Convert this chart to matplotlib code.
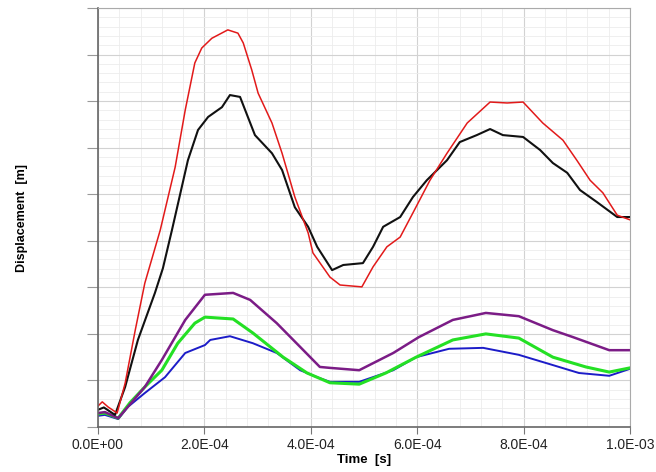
import numpy as np
import matplotlib
matplotlib.use("Agg")
import matplotlib.pyplot as plt
from matplotlib.ticker import MultipleLocator, FuncFormatter

plt.rcParams['font.family'] = ['Liberation Sans', 'DejaVu Sans']

# time in units of 1e-4 s, displacement in arbitrary grid units (axis has no labels)
red_t = [0, 0.08, 0.19, 0.36, 0.51, 0.70, 0.88, 1.17, 1.45, 1.64, 1.82, 1.95, 2.14, 2.44, 2.63,
         2.73, 2.89, 3.01, 3.27, 3.46, 3.70, 3.95, 4.04, 4.36, 4.55, 4.96, 5.17, 5.43, 5.68,
         5.92, 6.24, 6.56, 6.94, 7.37, 7.69, 7.99, 8.36, 8.74, 9.00, 9.25, 9.49, 9.76, 10.0]
red_y = [0.45, 0.54, 0.43, 0.30, 0.94, 2.08, 3.09, 4.23, 5.58, 6.81, 7.82, 8.14, 8.35, 8.53, 8.46,
         8.25, 7.67, 7.17, 6.53, 5.88, 4.94, 4.17, 3.74, 3.22, 3.05, 3.01, 3.44, 3.87, 4.08,
         4.60, 5.30, 5.88, 6.53, 6.98, 6.96, 6.98, 6.53, 6.16, 5.73, 5.30, 5.03, 4.55, 4.45]

black_t = [0, 0.11, 0.32, 0.51, 0.75, 1.07, 1.22, 1.39, 1.69, 1.88, 2.07, 2.33, 2.48, 2.67, 2.95,
           3.27, 3.46, 3.70, 3.95, 4.12, 4.40, 4.61, 4.98, 5.17, 5.36, 5.68, 5.92, 6.18, 6.56,
           6.80, 7.12, 7.37, 7.61, 7.99, 8.31, 8.55, 8.82, 9.06, 9.38, 9.76, 10.0]
black_y = [0.37, 0.42, 0.26, 0.86, 1.87, 2.88, 3.41, 4.23, 5.73, 6.38, 6.66, 6.87, 7.13, 7.09, 6.27,
           5.88, 5.52, 4.72, 4.30, 3.87, 3.37, 3.48, 3.52, 3.87, 4.30, 4.51, 4.94, 5.30, 5.73,
           6.12, 6.27, 6.40, 6.27, 6.23, 5.95, 5.67, 5.46, 5.09, 4.83, 4.51, 4.51]

purple_t = [0, 0.13, 0.38, 0.88, 1.20, 1.64, 2.01, 2.54, 2.86, 3.36, 3.80, 4.17, 4.36, 4.91, 5.55,
            6.03, 6.67, 7.29, 7.91, 8.55, 8.93, 9.61, 10.0]
purple_y = [0.30, 0.32, 0.19, 0.86, 1.44, 2.30, 2.84, 2.88, 2.73, 2.23, 1.72, 1.29, 1.27, 1.22, 1.59,
            1.93, 2.30, 2.45, 2.38, 2.08, 1.93, 1.65, 1.65]

green_t = [0, 0.13, 0.38, 0.60, 0.88, 1.20, 1.50, 1.82, 2.01, 2.54, 2.91, 3.48, 3.93, 4.36, 4.91,
           5.41, 5.98, 6.67, 7.29, 7.91, 8.55, 9.17, 9.61, 10.0]
green_y = [0.28, 0.30, 0.19, 0.52, 0.86, 1.22, 1.80, 2.23, 2.36, 2.32, 2.02, 1.50, 1.16, 0.95, 0.92,
           1.16, 1.50, 1.87, 2.00, 1.91, 1.50, 1.29, 1.18, 1.27]

blue_t = [0, 0.13, 0.38, 0.56, 0.88, 1.26, 1.64, 2.01, 2.11, 2.48, 2.91, 3.36, 3.80, 4.12, 4.36,
          4.91, 5.55, 5.98, 6.60, 7.24, 7.91, 8.55, 9.04, 9.61, 10.0]
blue_y = [0.24, 0.26, 0.17, 0.43, 0.73, 1.07, 1.59, 1.76, 1.87, 1.95, 1.80, 1.59, 1.22, 1.07, 0.97,
          0.97, 1.22, 1.50, 1.68, 1.70, 1.55, 1.33, 1.16, 1.10, 1.25]

x_ticks = [0, 2e-4, 4e-4, 6e-4, 8e-4, 1e-3]
x_labels = ["0.0E+00", "2.0E-04", "4.0E-04", "6.0E-04", "8.0E-04", "1.0E-03"]

fig = plt.figure(figsize=(6.56, 4.72), dpi=100)
ax = fig.add_axes([98/656, 45/472, 532/656, 419/472])

series = [
    (blue_t, blue_y, "#1c1cc8", 1.4),
    (green_t, green_y, "#24e024", 2.2),
    (purple_t, purple_y, "#7b1c86", 1.8),
    (black_t, black_y, "#111111", 1.5),
    (red_t, red_y, "#e21a1a", 1.1),
]
for t, y, c, lw in series:
    ax.plot(np.array(t) * 1e-4, y, color=c, lw=lw)

ax.set_xlim(0, 1e-3)
ax.set_ylim(0, 9)
ax.set_xticks(x_ticks)
ax.set_xticklabels(x_labels)
ax.xaxis.set_minor_locator(MultipleLocator(4e-5))
ax.yaxis.set_major_locator(MultipleLocator(1))
ax.yaxis.set_minor_locator(MultipleLocator(0.2))
ax.yaxis.set_major_formatter(FuncFormatter(lambda v, p: ""))

ax.grid(which="major", color="#d2d2d2", lw=0.8)
ax.grid(which="minor", color="#ececec", lw=0.6)
ax.set_axisbelow(True)

ax.tick_params(axis="x", which="major", direction="out", length=5, color="#777777",
               labelsize=10, labelcolor="#222222", pad=3)
ax.tick_params(axis="y", which="major", direction="out", length=8, color="#999999")
ax.tick_params(which="minor", length=0)

for side in ["left", "bottom"]:
    ax.spines[side].set_color("#666666")
    ax.spines[side].set_linewidth(1.2)
for side in ["top", "right"]:
    ax.spines[side].set_color("#aaaaaa")

ax.set_xlabel("Time  [s]", fontsize=9.5, fontweight="bold", labelpad=1)
ax.set_ylabel("Displacement  [m]", fontsize=9, fontweight="bold")
ax.yaxis.set_label_coords(-70/532, 0.5)

fig.savefig("out.png", dpi=100)
